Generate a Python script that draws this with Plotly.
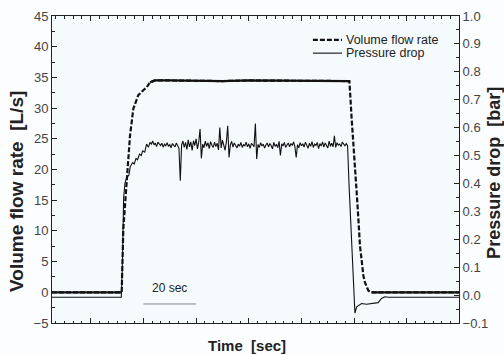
import numpy as np
import plotly.graph_objects as go

# ---------------- data ----------------
# Time in seconds (x axis has no labels; a 20 s scale bar is drawn)
flow_t = [-14.7, 11.76, 12.37, 13.66, 14.91, 16.17, 18.06, 19.96, 21.25, 22.5, 24.4,
          30.0, 40.0, 50.0, 60.0, 70.0, 80.0, 90.0, 98.2,
          99.05, 99.66, 100.95, 101.6, 102.2, 102.8, 103.5, 104.1, 105.4, 106.6, 139.8]
flow_v = [0.0, 0.0, 10.3, 19.0, 25.5, 29.9, 32.1, 32.9, 33.4, 34.2, 34.5,
          34.5, 34.45, 34.4, 34.5, 34.45, 34.45, 34.4, 34.4,
          28.3, 23.9, 16.3, 12.0, 7.6, 5.4, 2.7, 1.6, 0.26, 0.0, 0.0]

press_rise_t = [-14.7, 11.6, 12.0, 12.5, 13.0, 13.6, 14.5, 15.0, 15.9, 16.5, 17.2,
                17.8, 18.5, 19.2, 19.7, 20.5, 21.2, 21.9]
press_rise_v = [-0.008, -0.008, 0.10, 0.35, 0.40, 0.42, 0.43, 0.46, 0.475, 0.47, 0.49,
                0.485, 0.505, 0.50, 0.517, 0.512, 0.541, 0.53]

# plateau sampled every 0.5 s from 22.5 s to 97.5 s
press_plateau_v = [
    0.547, 0.541, 0.552, 0.538, 0.545, 0.532, 0.548, 0.540, 0.536, 0.544,
    0.530, 0.541, 0.535, 0.546, 0.533, 0.539, 0.528, 0.543, 0.537, 0.531,
    0.545, 0.534, 0.526, 0.410, 0.538, 0.552, 0.529, 0.547, 0.522, 0.556,
    0.531, 0.549, 0.518, 0.553, 0.536, 0.560, 0.524, 0.548, 0.595, 0.490,
    0.541, 0.528, 0.552, 0.533, 0.546, 0.525, 0.550, 0.537, 0.529, 0.548,
    0.532, 0.544, 0.520, 0.600, 0.527, 0.555, 0.534, 0.519, 0.549, 0.607,
    0.493, 0.538, 0.551, 0.530, 0.545, 0.536, 0.527, 0.541, 0.533, 0.547,
    0.529, 0.539, 0.535, 0.548, 0.531, 0.542, 0.526, 0.544, 0.537, 0.532,
    0.615, 0.488, 0.540, 0.529, 0.546, 0.534, 0.541, 0.527, 0.538, 0.545,
    0.531, 0.543, 0.536, 0.524, 0.547, 0.533, 0.540, 0.528, 0.551, 0.500,
    0.542, 0.534, 0.547, 0.529, 0.538, 0.545, 0.531, 0.543, 0.536, 0.549,
    0.532, 0.493, 0.539, 0.528, 0.546, 0.535, 0.542, 0.530, 0.548, 0.537,
    0.526, 0.544, 0.533, 0.550, 0.529, 0.541, 0.536, 0.547, 0.525, 0.543,
    0.534, 0.549, 0.530, 0.545, 0.538, 0.527, 0.552, 0.533, 0.544, 0.531,
    0.571, 0.529, 0.546, 0.537, 0.541, 0.532, 0.548, 0.539, 0.535, 0.543, 0.535]
press_plateau_t = list(22.5 + 0.5 * np.arange(len(press_plateau_v)))

press_fall_t = [98.1, 98.8, 99.4, 100.3, 100.95, 101.6, 102.8, 104.7, 107.2, 109.1,
                110.4, 111.7, 113.0, 139.8]
press_fall_v = [0.386, 0.232, 0.089, -0.065, -0.042, -0.038, -0.030, -0.033, -0.030, -0.027,
                -0.012, -0.006, -0.008, -0.008]

press_t = press_rise_t + press_plateau_t + press_fall_t
press_v = press_rise_v + press_plateau_v + press_fall_v

scale_bar = [20, 40]   # seconds, "20 sec" scale bar
legend_labels = ["Volume flow rate", "Pressure drop"]

# ---------------- figure ----------------
font_fam = "Liberation Sans, Arial, sans-serif"
ink = "#111111"
fig = go.Figure()

fig.add_trace(go.Scatter(
    x=press_t, y=press_v, yaxis="y2", mode="lines", name=legend_labels[1],
    showlegend=False, line=dict(color=ink, width=1.1)))

fig.add_trace(go.Scatter(
    x=flow_t, y=flow_v, mode="lines", name=legend_labels[0],
    showlegend=False, line=dict(color=ink, width=2.2, dash="5px,2px")))

# solid overlay on the flat parts of the flow curve (they look solid in the reference)
for i0, i1 in [(0, 2), (9, 19), (28, 30)]:
    fig.add_trace(go.Scatter(
        x=flow_t[i0:i1], y=flow_v[i0:i1], mode="lines", showlegend=False,
        hoverinfo="skip", line=dict(color=ink, width=2.2)))

axis_common = dict(showgrid=False, zeroline=False, showline=True, linecolor="#222222",
                   linewidth=1, ticks="inside", ticklen=5, tickcolor="#222222",
                   automargin=False)

fig.update_layout(
    width=504, height=355,
    margin=dict(l=52, r=45, t=16, b=32, autoexpand=False),
    paper_bgcolor="#fbfdfe", plot_bgcolor="#f5fafd",
    font=dict(family=font_fam, size=13, color="#444444"),
    showlegend=False,
    xaxis=dict(range=[-14.7, 139.8], showticklabels=False, mirror="ticks",
               dtick=20, tick0=0,
               minor=dict(dtick=20 / 6, tick0=0, ticks="inside", ticklen=2.5,
                          tickcolor="#222222", showgrid=False),
               **axis_common),
    yaxis=dict(range=[-5, 45], dtick=5,
               minor=dict(dtick=2.5, ticks="inside", ticklen=3, tickcolor="#222222",
                          showgrid=False),
               **axis_common),
    yaxis2=dict(range=[-0.1, 1.0], dtick=0.1, tickformat=".1f", overlaying="y", side="right",
                minor=dict(dtick=0.05, ticks="inside", ticklen=3, tickcolor="#222222",
                           showgrid=False),
                **axis_common),
)

# hand-drawn legend (compact spacing as in the reference)
leg_x0, leg_x1, leg_tx = 0.641, 0.7125, 0.7175
leg_y = [0.922, 0.879]
fig.add_shape(type="line", xref="paper", yref="paper", x0=leg_x0, x1=leg_x1,
              y0=leg_y[0], y1=leg_y[0], line=dict(color=ink, width=2.2, dash="5px,2px"))
fig.add_shape(type="line", xref="paper", yref="paper", x0=leg_x0, x1=leg_x1,
              y0=leg_y[1], y1=leg_y[1], line=dict(color=ink, width=1.1))
for lab, yy in zip(legend_labels, leg_y):
    fig.add_annotation(xref="paper", yref="paper", x=leg_tx, y=yy, text=lab,
                       showarrow=False, xanchor="left", yanchor="middle",
                       font=dict(size=12.5, color="#222222"))

# scale bar
fig.add_shape(type="line", xref="x", yref="y", x0=scale_bar[0], x1=scale_bar[1],
              y0=-1.9, y1=-1.9, line=dict(color="#888888", width=1))
fig.add_annotation(xref="x", yref="y", x=(scale_bar[0] + scale_bar[1]) / 2, y=0.7,
                   text="20 sec", showarrow=False, font=dict(size=12, color="#222222"))

title_font = dict(family=font_fam, size=19, color="#222222")
fig.add_annotation(xref="paper", yref="paper", x=-0.086, y=0.43, textangle=-90,
                   text="<b>Volume flow rate\u00a0\u00a0[L/s]</b>", showarrow=False,
                   xanchor="center", yanchor="middle", font=title_font)
fig.add_annotation(xref="paper", yref="paper", x=1.086, y=0.489, textangle=-90,
                   text="<b>Pressure drop\u00a0\u00a0[bar]</b>", showarrow=False,
                   xanchor="center", yanchor="middle",
                   font=dict(family=font_fam, size=18, color="#222222"))
fig.add_annotation(xref="paper", yref="paper", x=0.479, y=-0.0717,
                   text="<b>Time\u00a0\u00a0[sec]</b>", showarrow=False,
                   xanchor="center", yanchor="middle",
                   font=dict(family=font_fam, size=15, color="#222222"))

fig.write_html("out.html",
               config={"displayModeBar": False},
               post_script="document.body.style.margin='0';"
                           "document.body.style.overflow='hidden';")
